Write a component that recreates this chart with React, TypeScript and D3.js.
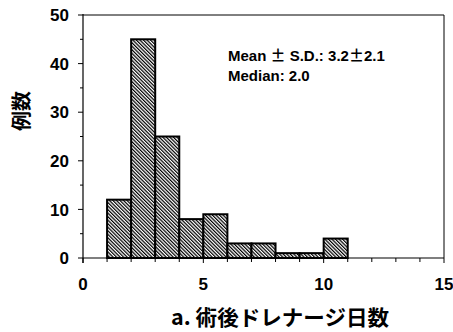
import React from "react";
import * as d3 from "d3";

const binStarts = [1, 2, 3, 4, 5, 6, 7, 8, 9, 10];
const counts = [12, 45, 25, 8, 9, 3, 3, 1, 1, 4];
const xTicks = [0, 5, 10, 15];
const yTicks = [0, 10, 20, 30, 40, 50];
const xTitle = "a. 術後ドレナージ日数";
const yTitle = "例数";

export default function App() {
  const W = 453, H = 332;
  const x = d3.scaleLinear().domain([0, 15]).range([83, 444]);
  const y = d3.scaleLinear().domain([0, 50]).range([258, 15]);
  const minorX = d3.range(0, 16, 1);
  const minorY = d3.range(0, 51, 5);
  const numFont = "'Liberation Sans', Arial, sans-serif";
  const jpFont = "'Noto Sans CJK JP', sans-serif";
  return (
    <svg width={W} height={H} style={{ position: "absolute", left: 0, top: 0, background: "#fff" }}>
      <defs>
        <pattern id="hatch" patternUnits="userSpaceOnUse" width={2.5} height={2.5} patternTransform="rotate(-45)">
          <rect width={2.5} height={2.5} fill="#fff" />
          <line x1={0.6} y1={0} x2={0.6} y2={2.5} stroke="#000" strokeWidth={1.25} />
        </pattern>
      </defs>
      {/* frame */}
      <line x1={x(0)} y1={y(50)} x2={x(15)} y2={y(50)} stroke="#000" strokeWidth={1} />
      <line x1={x(15)} y1={y(50)} x2={x(15)} y2={y(0)} stroke="#000" strokeWidth={1} />
      {/* bars */}
      {binStarts.map((b, i) => (
        <rect key={i} x={x(b)} y={y(counts[i])} width={x(b + 1) - x(b)} height={y(0) - y(counts[i])}
          fill="url(#hatch)" stroke="#000" strokeWidth={2} />
      ))}
      {/* axes */}
      <line x1={x(0)} y1={y(50) - 1} x2={x(0)} y2={y(0) + 5} stroke="#000" strokeWidth={1.2} />
      <line x1={x(0)} y1={y(0)} x2={x(15)} y2={y(0)} stroke="#000" strokeWidth={1.2} />
      {minorY.map((v) => (
        <line key={"ym" + v} x1={x(0) - (v % 10 === 0 ? 5 : 3)} y1={y(v)} x2={x(0)} y2={y(v)} stroke="#000" strokeWidth={1} />
      ))}
      {minorX.map((v) => (
        <line key={"xm" + v} x1={x(v)} y1={y(0)} x2={x(v)} y2={y(0) + (v % 5 === 0 ? 5 : 4)} stroke="#000" strokeWidth={1} />
      ))}
      {yTicks.map((v) => (
        <text key={"yt" + v} x={69} y={y(v)} dy="0.36em" textAnchor="end" fontFamily={numFont} fontWeight="bold" fontSize={17} fill="#000">{v}</text>
      ))}
      {xTicks.map((v) => (
        <text key={"xt" + v} x={x(v)} y={290} textAnchor="middle" fontFamily={numFont} fontWeight="bold" fontSize={17} fill="#000">{v}</text>
      ))}
      <text x={228} y={61} fontFamily={numFont} fontWeight="bold" fontSize={15} fill="#000" style={{ whiteSpace: "pre" }}>
        {"Mean "}<tspan fontFamily={jpFont}>±</tspan>{" S.D.: 3.2"}<tspan fontFamily={jpFont}>±</tspan>{"2.1"}
      </text>
      <text x={228} y={81} fontFamily={numFont} fontWeight="bold" fontSize={15} fill="#000">Median: 2.0</text>
      <text x={280} y={325} textAnchor="middle" fontFamily={jpFont} fontWeight="bold" fontSize={21} fill="#000" textLength={218} lengthAdjust="spacingAndGlyphs">{xTitle}</text>
      <text transform="translate(29,111) rotate(-90)" textAnchor="middle" fontFamily={jpFont} fontWeight="bold" fontSize={20} fill="#000">{yTitle}</text>
    </svg>
  );
}
